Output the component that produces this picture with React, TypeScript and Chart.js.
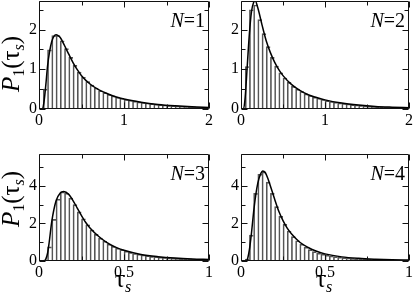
import React, { useEffect, useRef } from "react";
import { Chart, registerables } from "chart.js";
Chart.register(...registerables);

// ---------- data ----------
// bin centres (bin width 0.05 on [0,2] for N=1,2 ; 0.025 on [0,1] for N=3,4)
const binsA = [0.025,0.075,0.125,0.175,0.225,0.275,0.325,0.375,0.425,0.475,0.525,0.575,0.625,0.675,0.725,0.775,0.825,0.875,0.925,0.975,1.025,1.075,1.125,1.175,1.225,1.275,1.325,1.375,1.425,1.475,1.525,1.575,1.625,1.675,1.725,1.775,1.825,1.875,1.925,1.975];
const binsB = [0.0125,0.0375,0.0625,0.0875,0.1125,0.1375,0.1625,0.1875,0.2125,0.2375,0.2625,0.2875,0.3125,0.3375,0.3625,0.3875,0.4125,0.4375,0.4625,0.4875,0.5125,0.5375,0.5625,0.5875,0.6125,0.6375,0.6625,0.6875,0.7125,0.7375,0.7625,0.7875,0.8125,0.8375,0.8625,0.8875,0.9125,0.9375,0.9625,0.9875];

const hist1 = [0.02,0.50,1.49,1.85,1.85,1.72,1.52,1.30,1.10,0.93,0.80,0.69,0.60,0.53,0.46,0.41,0.37,0.33,0.30,0.27,0.24,0.22,0.20,0.18,0.165,0.15,0.135,0.12,0.11,0.10,0.09,0.085,0.077,0.07,0.064,0.058,0.053,0.048,0.044,0.04];
const hist2 = [0.0,1.07,2.50,2.62,2.25,1.90,1.57,1.30,1.08,0.91,0.78,0.67,0.57,0.50,0.44,0.38,0.34,0.30,0.27,0.24,0.21,0.19,0.17,0.155,0.14,0.125,0.11,0.10,0.09,0.08,0.072,0.065,0.058,0.052,0.047,0.043,0.039,0.035,0.032,0.03];
const hist3 = [0.0,0.05,0.75,2.22,3.30,3.68,3.62,3.35,3.00,2.62,2.25,1.93,1.65,1.42,1.22,1.05,0.90,0.78,0.68,0.60,0.52,0.46,0.40,0.36,0.32,0.28,0.25,0.23,0.21,0.19,0.17,0.155,0.14,0.13,0.12,0.11,0.10,0.095,0.09,0.085];
const hist4 = [0.0,0.10,1.38,3.60,4.62,4.75,4.20,3.60,2.90,2.38,1.95,1.60,1.30,1.08,0.90,0.74,0.61,0.50,0.42,0.36,0.31,0.27,0.23,0.20,0.18,0.16,0.14,0.125,0.11,0.10,0.09,0.08,0.075,0.07,0.065,0.06,0.055,0.05,0.045,0.04];

const curve1X = [0,0.04,0.06,0.08,0.1,0.125,0.15,0.175,0.2,0.225,0.25,0.3,0.35,0.4,0.45,0.5,0.6,0.7,0.8,0.9,1.0,1.2,1.4,1.6,1.8,2.0];
const curve1Y = [0,0,0.2,0.6,1.07,1.45,1.70,1.83,1.87,1.85,1.80,1.60,1.38,1.17,0.99,0.84,0.63,0.49,0.39,0.31,0.25,0.17,0.115,0.08,0.055,0.04];
const curve2X = [0,0.03,0.05,0.075,0.1,0.125,0.15,0.17,0.2,0.25,0.3,0.35,0.4,0.45,0.5,0.6,0.7,0.8,0.9,1.0,1.2,1.4,1.6,1.8,2.0];
const curve2Y = [0,0,0.3,1.1,1.9,2.45,2.68,2.72,2.55,2.12,1.72,1.42,1.18,0.99,0.84,0.62,0.47,0.36,0.29,0.23,0.15,0.10,0.065,0.045,0.03];
const curve3X = [0,0.03,0.04,0.05,0.06,0.075,0.1,0.125,0.145,0.175,0.2,0.225,0.25,0.275,0.3,0.35,0.4,0.45,0.5,0.6,0.7,0.8,0.9,1.0];
const curve3Y = [0,0,0.1,0.4,1.0,2.1,3.2,3.62,3.70,3.55,3.22,2.82,2.42,2.05,1.76,1.32,0.98,0.74,0.57,0.35,0.23,0.155,0.11,0.085];
const curve4X = [0,0.03,0.04,0.05,0.0625,0.075,0.0875,0.1,0.115,0.13,0.145,0.16,0.175,0.2,0.225,0.25,0.275,0.3,0.35,0.4,0.45,0.5,0.6,0.7,0.8,0.9,1.0];
const curve4Y = [0,0,0.15,0.6,1.5,2.6,3.5,4.15,4.6,4.8,4.7,4.4,4.0,3.3,2.65,2.15,1.75,1.45,1.0,0.72,0.52,0.38,0.22,0.14,0.095,0.065,0.05];

const xTicksA = [0, 1, 2];
const xMinorA = [0.5, 1.5];
const xTicksB = [0, 0.5, 1];
const xMinorB = [0.25, 0.75];
const yTicksA = [0, 1, 2];
const yMinorA = [0.5, 1.5, 2.5];
const yTicksB = [0, 2, 4];
const yMinorB = [1, 3, 5];

const panelLabels = ["1", "2", "3", "4"];

// ---------- drawing helpers ----------
const SERIF = '"Liberation Serif", "Times New Roman", serif';
type Part = { t: string; f: string; dy: number };

function richWidth(ctx: CanvasRenderingContext2D, parts: Part[]) {
  let w = 0;
  for (const p of parts) { ctx.font = p.f; w += ctx.measureText(p.t).width; }
  return w;
}
function drawRich(ctx: CanvasRenderingContext2D, parts: Part[], x: number, y: number) {
  let cx = x;
  ctx.textBaseline = "alphabetic";
  ctx.textAlign = "left";
  for (const p of parts) {
    ctx.font = p.f;
    ctx.fillText(p.t, cx, y + p.dy);
    cx += ctx.measureText(p.t).width;
  }
}

type Cfg = {
  bins: number[]; hist: number[]; cx: number[]; cy: number[];
  xMax: number; yMax: number;
  xTicks: number[]; xMinor: number[]; yTicks: number[]; yMinor: number[];
  label: string; yTitle: boolean; xTitle: boolean;
  yAxisWidth: number; padRight: number; padTop: number; titleCenterY: number;
};

function Panel({ cfg, left, top, width, height }: { cfg: Cfg; left: number; top: number; width: number; height: number }) {
  const ref = useRef<HTMLCanvasElement>(null);
  useEffect(() => {
    const decor = {
      id: "decor",
      afterDraw(chart: any) {
        const ctx: CanvasRenderingContext2D = chart.ctx;
        const a = chart.chartArea;
        const xs = chart.scales.x, ys = chart.scales.y;
        const L = Math.round(xs.getPixelForValue(0)) + 0.5;
        const R = Math.round(xs.getPixelForValue(cfg.xMax)) - 0.5;
        const T = Math.round(ys.getPixelForValue(cfg.yMax)) + 0.5;
        const B = Math.round(ys.getPixelForValue(0)) - 0.5;
        ctx.save();
        ctx.strokeStyle = "#111";
        ctx.lineWidth = 1;
        ctx.beginPath();
        ctx.rect(L, T, R - L, B - T);
        const tick = (vals: number[], len: number) => {
          for (const v of vals) {
            const px = Math.round(xs.getPixelForValue(v)) + 0.5;
            ctx.moveTo(px, B); ctx.lineTo(px, B - len);
            ctx.moveTo(px, T); ctx.lineTo(px, T + len);
          }
        };
        const tickY = (vals: number[], len: number) => {
          for (const v of vals) {
            const py = Math.round(ys.getPixelForValue(v)) + 0.5;
            ctx.moveTo(L, py); ctx.lineTo(L + len, py);
            ctx.moveTo(R, py); ctx.lineTo(R - len, py);
          }
        };
        tick(cfg.xTicks, 6); tick(cfg.xMinor, 4);
        tickY(cfg.yTicks, 6); tickY(cfg.yMinor, 4);
        ctx.stroke();

        ctx.fillStyle = "#000";
        // N label
        const nParts: Part[] = [
          { t: "N", f: `italic 20px ${SERIF}`, dy: 0 },
          { t: "=", f: `20px ${SERIF}`, dy: 0 },
          { t: cfg.label, f: `20px ${SERIF}`, dy: 0 },
        ];
        const nw = richWidth(ctx, nParts);
        drawRich(ctx, nParts, a.right - 4 - nw, a.top + 26);

        if (cfg.yTitle) {
          const parts: Part[] = [
            { t: "P", f: `italic 25px ${SERIF}`, dy: 0 },
            { t: "1", f: `16px ${SERIF}`, dy: 5 },
            { t: "(", f: `25px ${SERIF}`, dy: 0 },
            { t: "τ", f: `25px ${SERIF}`, dy: 0 },
            { t: "s", f: `italic 16px ${SERIF}`, dy: 5 },
            { t: ")", f: `25px ${SERIF}`, dy: 0 },
          ];
          const w = richWidth(ctx, parts);
          ctx.save();
          ctx.translate(19, cfg.titleCenterY);
          ctx.rotate(-Math.PI / 2);
          drawRich(ctx, parts, -w / 2, 0);
          ctx.restore();
        }
        if (cfg.xTitle) {
          const parts: Part[] = [
            { t: "τ", f: `25px ${SERIF}`, dy: 0 },
            { t: "s", f: `italic 16px ${SERIF}`, dy: 5 },
          ];
          const w = richWidth(ctx, parts);
          drawRich(ctx, parts, (a.left + a.right) / 2 - w / 2 - 1, a.bottom + 26);
        }
        ctx.restore();
      },
    };

    const tickFont = { family: SERIF, size: 16 };
    const chart = new Chart(ref.current!, {
      type: "bar",
      data: {
        datasets: [
          {
            type: "line",
            data: cfg.cx.map((x, i) => ({ x, y: cfg.cy[i] })),
            borderColor: "#000",
            borderWidth: 1.5,
            pointRadius: 0,
            cubicInterpolationMode: "monotone",
            fill: false,
            order: 0,
          } as any,
          {
            type: "bar",
            data: cfg.bins.map((x, i) => ({ x, y: cfg.hist[i] })),
            backgroundColor: "rgba(0,0,0,0)",
            borderColor: "#555",
            borderWidth: { left: 1, top: 1, right: 0, bottom: 0 },
            barPercentage: 1,
            categoryPercentage: 1,
            order: 1,
          } as any,
        ],
      },
      options: {
        responsive: false,
        animation: false,
        devicePixelRatio: 1,
        layout: { padding: { left: 0, right: cfg.padRight, top: cfg.padTop, bottom: 0 } },
        plugins: { legend: { display: false }, tooltip: { enabled: false } },
        scales: {
          x: {
            type: "linear",
            min: 0,
            max: cfg.xMax,
            offset: false,
            grid: { display: false, drawTicks: false },
            border: { display: false },
            ticks: { font: tickFont, color: "#000", padding: 2, maxRotation: 0, autoSkip: false, callback: (v: any) => String(v) },
            afterBuildTicks: (s: any) => { s.ticks = cfg.xTicks.map((v) => ({ value: v })); },
            afterFit: (s: any) => { s.height = 41; s.paddingLeft = 0; s.paddingRight = 0; },
          },
          y: {
            type: "linear",
            min: 0,
            max: cfg.yMax,
            grid: { display: false, drawTicks: false },
            border: { display: false },
            ticks: { font: tickFont, color: "#000", padding: 2, autoSkip: false, callback: (v: any) => String(v) },
            afterBuildTicks: (s: any) => { s.ticks = cfg.yTicks.map((v) => ({ value: v })); },
            afterFit: (s: any) => { s.width = cfg.yAxisWidth; s.paddingTop = 0; s.paddingBottom = 0; },
          },
        } as any,
      },
      plugins: [decor],
    });
    return () => chart.destroy();
  }, []);
  return (
    <canvas
      ref={ref}
      width={width}
      height={height}
      style={{ position: "absolute", left, top, width, height, display: "block" }}
    />
  );
}

export default function App() {
  const p1: Cfg = { bins: binsA, hist: hist1, cx: curve1X, cy: curve1Y, xMax: 2, yMax: 2.72, xTicks: xTicksA, xMinor: xMinorA, yTicks: yTicksA, yMinor: yMinorA, label: panelLabels[0], yTitle: true, xTitle: false, yAxisWidth: 39, padRight: 16, padTop: 1, titleCenterY: 64 };
  const p2: Cfg = { bins: binsA, hist: hist2, cx: curve2X, cy: curve2Y, xMax: 2, yMax: 2.72, xTicks: xTicksA, xMinor: xMinorA, yTicks: yTicksA, yMinor: yMinorA, label: panelLabels[1], yTitle: false, xTitle: false, yAxisWidth: 16, padRight: 6, padTop: 1, titleCenterY: 64 };
  const p3: Cfg = { bins: binsB, hist: hist3, cx: curve3X, cy: curve3Y, xMax: 1, yMax: 5.7, xTicks: xTicksB, xMinor: xMinorB, yTicks: yTicksB, yMinor: yMinorB, label: panelLabels[2], yTitle: true, xTitle: true, yAxisWidth: 39, padRight: 16, padTop: 4, titleCenterY: 49 };
  const p4: Cfg = { bins: binsB, hist: hist4, cx: curve4X, cy: curve4Y, xMax: 1, yMax: 5.7, xTicks: xTicksB, xMinor: xMinorB, yTicks: yTicksB, yMinor: yMinorB, label: panelLabels[3], yTitle: false, xTitle: true, yAxisWidth: 16, padRight: 6, padTop: 4, titleCenterY: 49 };
  return (
    <div style={{ position: "absolute", left: 0, top: 0, width: 415, height: 302, background: "#fff", overflow: "hidden" }}>
      <Panel cfg={p1} left={0} top={0} width={225} height={150} />
      <Panel cfg={p2} left={225} top={0} width={190} height={150} />
      <Panel cfg={p3} left={0} top={150} width={225} height={152} />
      <Panel cfg={p4} left={225} top={150} width={190} height={152} />
    </div>
  );
}
